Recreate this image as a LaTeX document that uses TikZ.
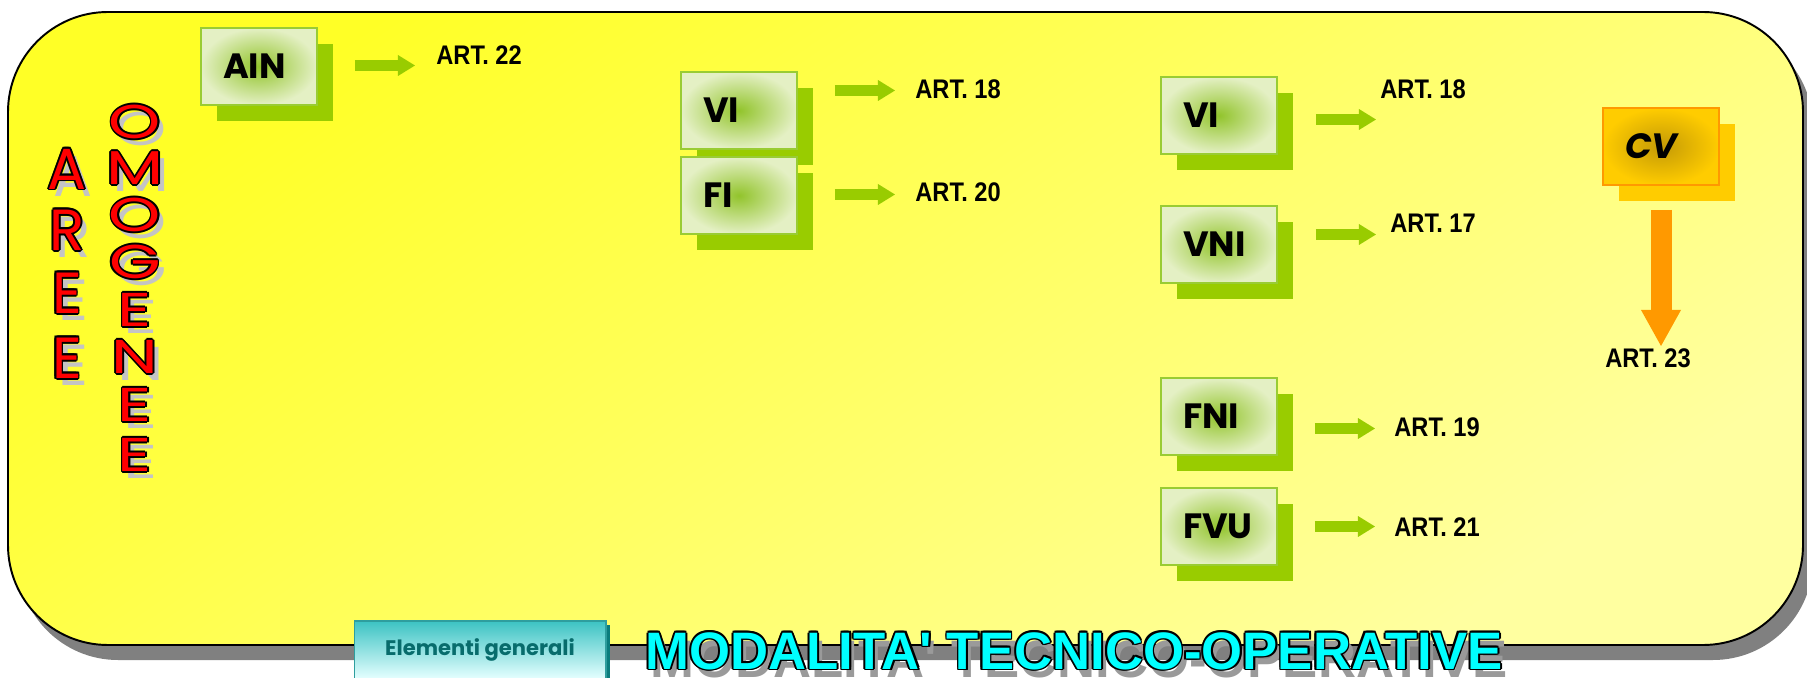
\documentclass[tikz,border=0pt]{standalone}
\usepackage{fontspec}
\usetikzlibrary{positioning, arrows.meta, shadows, calc}
\definecolor{panelyellow}{HTML}{FFFF26}
\definecolor{panelpale}{HTML}{FFFFA0}
\definecolor{panelshadow}{HTML}{808080}
\definecolor{boxedge}{HTML}{E4F0C4}
\definecolor{boxcentre}{HTML}{92C42C}
\definecolor{boxline}{HTML}{99CC33}
\definecolor{boxshadow}{HTML}{99CC00}
\definecolor{arrowgreen}{HTML}{99CC00}
\definecolor{cvedge}{HTML}{FFCC00}
\definecolor{cvcentre}{HTML}{C49A06}
\definecolor{cvline}{HTML}{FF9900}
\definecolor{arroworange}{HTML}{FF9900}
\definecolor{elemtop}{HTML}{3CC3C3}
\definecolor{elembottom}{HTML}{E6FFFF}
\definecolor{elemline}{HTML}{2E9E9E}
\definecolor{elemshadow}{HTML}{0A7D7D}
\definecolor{elemtext}{HTML}{086C6C}
\definecolor{titlecyan}{HTML}{00FFFF}
\definecolor{lettershadow}{HTML}{C4C4C4}
\definecolor{titleshadow}{HTML}{9A9A9A}
\newfontfamily\artfont{Liberation Sans}[FakeStretch=0.88]
\newfontfamily\titlefont{Liberation Sans}
\newfontfamily\comicfont{Poppins}
\newfontfamily\omofont{Poppins}[FakeStretch=1.4]
% name, position, style, fill, shadow colour, shadow shift, text
\newcommand{\outlinedtext}[7]{%
  \node[#3, text=#5] at ($(#2)+(#6)$) {#7};
  \foreach \ang in {0,45,...,315}
    \node[#3, text=black] at ($(#2)+(\ang:1.8)$) {#7};
  \node[#3, text=#4] (#1) at (#2) {#7};
}

\begin{document}
\begin{tikzpicture}[x=0.02cm, y=-0.02cm,
    entry/.style={line width=1.1pt, minimum width=2.32cm, minimum height=1.54cm,
      text width=1.44cm, inner xsep=0.44cm, inner ysep=0pt, align=left,
      font=\comicfont\bfseries\fontsize{20}{24}\selectfont},
    greenbox/.style={entry, draw=boxline, inner color=boxcentre, outer color=boxedge,
      drop shadow={shadow xshift=0.32cm, shadow yshift=-0.32cm, fill=boxshadow, opacity=1}},
    cvbox/.style={entry, draw=cvline, inner color=cvcentre, outer color=cvedge,
      drop shadow={shadow xshift=0.32cm, shadow yshift=-0.32cm, fill=cvedge, opacity=1}},
    greenarrow/.style={draw=arrowgreen, line width=0.22cm,
      -{Triangle[length=0.34cm, width=0.42cm, line width=0pt]}},
    orangearrow/.style={draw=arroworange, line width=0.42cm,
      -{Triangle[length=0.72cm, width=0.8cm, line width=0pt]}},
    artlabel/.style={font=\artfont\bfseries\fontsize{15.3}{18}\selectfont, inner sep=0pt, anchor=west},
    areeletter/.style={font=\comicfont\fontsize{33}{36}\selectfont, inner sep=0pt},
    omoletter/.style={font=\omofont\fontsize{27}{30}\selectfont, inner sep=0pt},
    titletext/.style={font=\titlefont\bfseries\fontsize{30}{34}\selectfont, inner sep=0pt},
    elembox/.style={draw=elemline, line width=0.6pt, top color=elemtop, bottom color=elembottom,
      minimum width=5.04cm, minimum height=1.16cm, text=elemtext,
      font=\comicfont\bfseries\fontsize{12}{14}\selectfont,
      drop shadow={shadow xshift=0.08cm, shadow yshift=-0.08cm, fill=elemshadow, opacity=1}}]
  \useasboundingbox (0,0) rectangle (1807,678);

  % panel
  \fill[panelshadow, rounded corners=2cm] (18,27) rectangle (1813,660);
  \shade[top color=panelyellow, bottom color=panelpale, shading angle=35,
    draw=black, line width=1.1pt, rounded corners=2cm] (8,12) rectangle (1803,645);

  % vertical title
  \foreach \ch/\yy [count=\i] in {A/169,R/230,E/293,E/358}
    {\outlinedtext{aree\i}{67,\yy}{areeletter}{red}{lettershadow}{6,7}{\ch}}
  \foreach \ch/\yy [count=\i] in {O/122,M/168,O/215,G/262,E/310,N/357,E/405,E/455}
    {\outlinedtext{omo\i}{135,\yy}{omoletter}{red}{lettershadow}{6,7}{\ch}}

  % boxes
  \node[greenbox] (ain) at (259,66.5) {AIN};
  \node[greenbox] (via) at (739,110.5) {VI};
  \node[greenbox] (fi)  at (739,195.5) {FI};
  \node[greenbox] (vib) at (1219,115.5) {VI};
  \node[greenbox] (vni) at (1219,244.5) {VNI};
  \node[greenbox] (fni) at (1219,416.5) {FNI};
  \node[greenbox] (fvu) at (1219,526.5) {FVU};
  \node[cvbox, font=\comicfont\bfseries\itshape\fontsize{20}{24}\selectfont] (cv) at (1661,146.5) {CV};

  % articles
  \node[artlabel] (art22)  at (436,55)  {ART. 22};
  \node[artlabel] (art18a) at (915,89)  {ART. 18};
  \node[artlabel] (art20)  at (915,192) {ART. 20};
  \node[artlabel] (art18b) at (1380,89) {ART. 18};
  \node[artlabel] (art17)  at (1390,223) {ART. 17};
  \node[artlabel] (art19)  at (1394,427) {ART. 19};
  \node[artlabel] (art21)  at (1394,527) {ART. 21};
  \node[artlabel, anchor=center] (art23) at (1648,358) {ART. 23};

  % arrows
  \draw[greenarrow] ($(ain.east)+(37,-1)$) -- ++(60,0);
  \draw[greenarrow] ($(via.east)+(37,-20)$) -- ++(60,0);
  \draw[greenarrow] ($(fi.east)+(37,-1)$) -- ++(60,0);
  \draw[greenarrow] ($(vib.east)+(38,4)$) -- ++(60,0);
  \draw[greenarrow] ($(vni.east)+(38,-10)$) -- ++(60,0);
  \draw[greenarrow] ($(fni.east)+(37,12)$) -- ++(60,0);
  \draw[greenarrow] ($(fvu.east)+(37,0)$) -- ++(60,0);
  \draw[orangearrow] ($(cv.south)+(0,24)$) -- ++(0,136);

  % footer
  \node[elembox] (elem) at (480,650) {Elementi generali};
  \outlinedtext{title}{1074,651}{titletext}{titlecyan}{titleshadow}{5,8}{MODALITA' TECNICO-OPERATIVE}
\end{tikzpicture}
\end{document}
